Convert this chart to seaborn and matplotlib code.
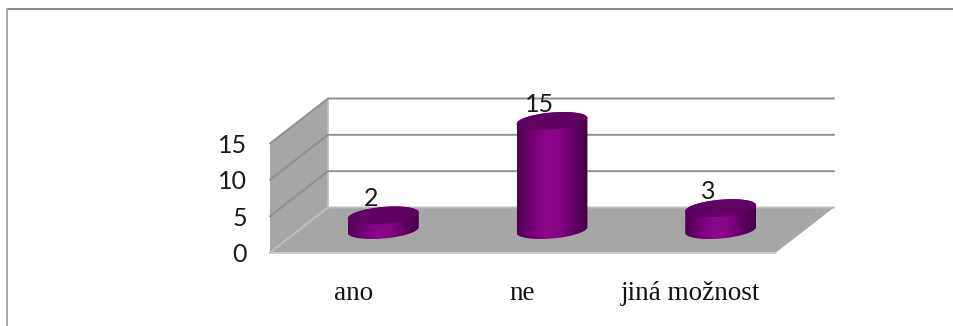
import numpy as np
import matplotlib
matplotlib.use("Agg")
import matplotlib.pyplot as plt
from matplotlib.colors import LinearSegmentedColormap
from matplotlib.lines import Line2D
from matplotlib.patches import Polygon
from matplotlib.transforms import Affine2D
import seaborn as sns

categories = ["ano", "ne", "jiná možnost"]
values = [2, 15, 3]
y_ticks = [0, 5, 10, 15]

sns.set_style("white")

W, H = 954, 326
fig = plt.figure(figsize=(W / 100, H / 100), dpi=100, facecolor="white")

# The axes sit on the mid-depth plane of the 3D box; front and back planes are offsets from it.
left_px, width_px, floor_px, height_px = 299, 506, 230, 109
ax = fig.add_axes([left_px / W, 1 - floor_px / H, width_px / W, height_px / H])
ax.patch.set_visible(False)

bar_width = 0.42
sns.barplot(x=categories, y=values, color="#800080", width=bar_width, saturation=1, ax=ax, zorder=3)
ax.set_xlim(-0.5, 2.5)
ax.set_ylim(0, 15)
sns.despine(ax=ax, left=True, bottom=True)

# Half of the box depth, in data units.
depth_x = 29 / (width_px / 3)
depth_y = 22.5 / (height_px / 15)
x0, x1 = -0.5, 2.5
y_top = y_ticks[-1]

wall = "#a6a6a6"
grid = "#909090"

def box_face(points, **kw):
    ax.add_patch(Polygon(points, closed=True, clip_on=False, lw=0, **kw))

# Floor and left side wall
box_face([(x0 - depth_x, -depth_y), (x1 - depth_x, -depth_y),
          (x1 + depth_x, depth_y), (x0 + depth_x, depth_y)], facecolor=wall, zorder=0.5)
box_face([(x0 - depth_x, -depth_y), (x0 + depth_x, depth_y),
          (x0 + depth_x, y_top + depth_y), (x0 - depth_x, y_top - depth_y)],
         facecolor=wall, zorder=0.5)

# Gridlines run along the back wall and turn down the side wall
for t in y_ticks:
    ax.plot([x0 - depth_x, x0 + depth_x, x1 + depth_x],
            [t - depth_y, t + depth_y, t + depth_y],
            color=grid if t else "#bdbdbd", lw=1.4, clip_on=False, zorder=0.7,
            solid_joinstyle="miter")
ax.plot([x0 + depth_x] * 2, [depth_y, y_top + depth_y], color="#bdbdbd", lw=1.2,
        clip_on=False, zorder=0.6)
ax.plot([x0 - depth_x, x1 - depth_x], [-depth_y, -depth_y], color="#c8c8c8", lw=1.2,
        clip_on=False, zorder=0.6)

# Cylinder shading across each seaborn bar
body_cmap = LinearSegmentedColormap.from_list(
    "body", ["#4c004e", "#720074", "#8a068a", "#860486", "#620064", "#440046"])

rim_x = depth_x * 0.40
rim_y = depth_y * 0.40
half = bar_width / 2
a = np.sqrt(max(half ** 2 - rim_x ** 2, 1e-6))
t_edge = np.arctan2(rim_x, a)
lower = np.linspace(np.pi + t_edge, 2 * np.pi + t_edge, 60)
upper = np.linspace(t_edge, np.pi + t_edge, 60)

def rim(cx, level, t):
    return cx + a * np.cos(t) + rim_x * np.sin(t), level + rim_y * np.sin(t)

for bar, v in zip(ax.patches[:len(values)], values):
    cx = bar.get_x() + bar.get_width() / 2
    bx, by = rim(cx, 0, lower)
    tx, ty = rim(cx, v, upper)
    outline = Polygon(np.r_[np.c_[bx, by], np.c_[tx, ty]], closed=True, transform=ax.transData)
    im = ax.imshow(np.linspace(0, 1, 128)[None, :], cmap=body_cmap, aspect="auto", zorder=4,
                   extent=(cx - half, cx + half, -rim_y * 1.1, v + rim_y * 1.1))
    im.set_clip_box(fig.bbox)
    im.set_clip_path(outline)

    ax.fill(*rim(cx, v, np.linspace(0, 2 * np.pi, 120)), color="#600062", lw=0,
            clip_on=False, zorder=5)

    ax.annotate(str(v), (cx, v), xytext=(-12, 17), textcoords="offset pixels",
                ha="center", va="center", fontsize=18, family="Lato", color="#1a1a1a",
                annotation_clip=False, zorder=6)
    bar.set_visible(False)

ax.set_xlim(-0.5, 2.5)
ax.set_ylim(0, 15)

# Tick labels belong to the front plane of the box
ax.set_yticks(y_ticks)
ax.set_xticks(range(len(categories)))
ax.set_xticklabels(categories)
ax.set_xlabel("")
ax.tick_params(axis="both", length=0)
ax.tick_params(axis="y", pad=16.5, labelsize=18, labelcolor="#1a1a1a")
ax.tick_params(axis="x", pad=37, labelsize=19.5, labelcolor="#111111")
for lab in ax.get_yticklabels():
    lab.set_family("Lato")
    lab.set_transform(lab.get_transform() + Affine2D().translate(-29, -22.5))
for lab in ax.get_xticklabels():
    lab.set_family("Liberation Serif")
    lab.set_transform(lab.get_transform() + Affine2D().translate(-30, 0))

# Outer frame: top and left edges only
fig.add_artist(Line2D([7.5 / W, 1], [1 - 8.5 / H] * 2, color="#8a8a8a", lw=1.4))
fig.add_artist(Line2D([7.5 / W] * 2, [0, 1 - 8.5 / H], color="#a8a8a8", lw=1.4))

fig.savefig("out.png", dpi=100, facecolor="white")
